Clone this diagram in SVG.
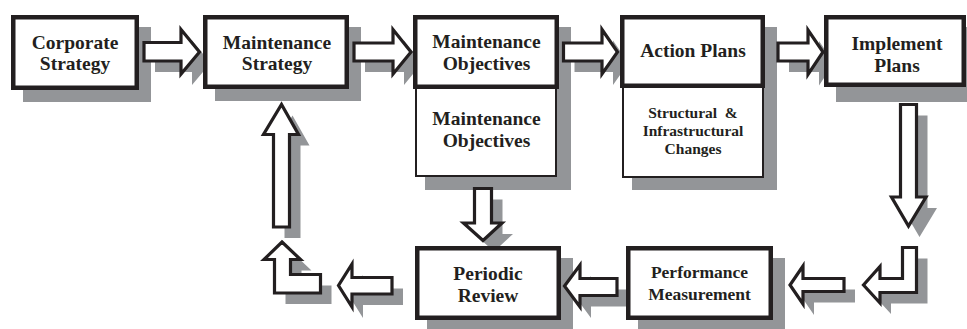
<svg xmlns="http://www.w3.org/2000/svg" width="967" height="329" viewBox="0 0 967 329">
  <style>
    .shadow { fill: #939598; stroke: none; }
    .box { fill: #ffffff; stroke: #231f20; stroke-width: 4.5; }
    .sub { fill: #ffffff; stroke: #231f20; stroke-width: 2; }
    .arrow { fill: #ffffff; stroke: #231f20; stroke-width: 3.2; stroke-linejoin: miter; }
    text { font-family: "Liberation Serif", "Times New Roman", serif; font-weight: bold; fill: #231f20; text-anchor: middle; }
    .t { font-size: 19.5px; }
    .m { font-size: 17.5px; }
    .s { font-size: 15.5px; white-space: pre; }
  </style>
  <defs>
    <!-- arrow outlines, reused for the drop shadows -->
    <polygon id="a1" points="144,42.5 181,42.5 181,29.5 199.5,52 181,74 181,61 144,61"/>
    <polygon id="a2" points="354,43 393,43 393,29.5 411,52 393,74 393,61 354,61"/>
    <polygon id="a3" points="563.5,43 602,43 602,29.5 617.5,52 602,74 602,61 563.5,61"/>
    <polygon id="a4" points="778,43 808,43 808,30 823,52 808,74.5 808,61 778,61"/>
    <polygon id="d1" points="900.5,104.5 916.5,104.5 916.5,197 926,197 908.5,226 891.5,197 900.5,197"/>
    <polygon id="d2" points="474.5,188.5 491.5,188.5 491.5,223 502,223 483,240.5 463.5,223 474.5,223"/>
    <polygon id="u1" points="273.5,227 289.5,227 289.5,134.5 298.5,134.5 281.5,104.5 263.5,134.5 273.5,134.5"/>
    <polygon id="l1" points="282,242 300.5,259.5 290.5,259.5 290.5,274.5 320.5,274.5 320.5,293 274.5,293 274.5,259.5 264,259.5"/>
    <polygon id="l2" points="902.5,247.5 916.5,247.5 916.5,292.5 880,292.5 880,303 863.5,285 880,266.5 880,278.5 902.5,278.5"/>
    <polygon id="b1" points="844,278.5 844,291.5 803,291.5 803,304 790,285 803,266 803,278.5"/>
    <polygon id="b2" points="617,278.5 617,295.5 580,295.5 580,307 564.5,286 580,265 580,278.5"/>
    <polygon id="b3" points="392,277.5 392,294 352,294 352,307 338.5,285.5 352,264 352,277.5"/>
  </defs>

  <!-- drop shadows -->
  <g id="shadows">
    <rect class="shadow" x="23" y="27" width="128" height="75"/>
    <rect class="shadow" x="215" y="27" width="146" height="74"/>
    <rect class="shadow" x="425" y="27" width="146" height="163"/>
    <rect class="shadow" x="632" y="27" width="145" height="163"/>
    <rect class="shadow" x="836" y="27" width="141" height="75"/>
    <rect class="shadow" x="427" y="258" width="146" height="74"/>
    <rect class="shadow" x="638" y="258" width="147" height="74"/>
    <g transform="translate(11,11)">
      <use href="#a1" class="shadow"/>
      <use href="#a2" class="shadow"/>
      <use href="#a3" class="shadow"/>
      <use href="#a4" class="shadow"/>
      <use href="#d1" class="shadow"/>
      <use href="#d2" class="shadow"/>
      <use href="#u1" class="shadow"/>
      <use href="#l1" class="shadow"/>
      <use href="#l2" class="shadow"/>
      <use href="#b1" class="shadow"/>
      <use href="#b2" class="shadow"/>
      <use href="#b3" class="shadow"/>
    </g>
  </g>

  <!-- block arrows -->
  <g id="connectors">
    <use href="#a1" class="arrow"/>
    <use href="#a2" class="arrow"/>
    <use href="#a3" class="arrow"/>
    <use href="#a4" class="arrow"/>
    <use href="#d1" class="arrow"/>
    <use href="#d2" class="arrow"/>
    <use href="#u1" class="arrow"/>
    <use href="#l1" class="arrow"/>
    <use href="#l2" class="arrow"/>
    <use href="#b1" class="arrow"/>
    <use href="#b2" class="arrow"/>
    <use href="#b3" class="arrow"/>
  </g>

  <g id="corporate-strategy">
    <rect class="box" x="13.25" y="17.25" width="123.5" height="70.5"/>
    <text class="t" x="75" y="49">Corporate</text>
    <text class="t" x="75" y="70">Strategy</text>
  </g>

  <g id="maintenance-strategy">
    <rect class="box" x="205.25" y="17.25" width="141.5" height="69.5"/>
    <text class="t" x="277" y="49">Maintenance</text>
    <text class="t" x="277" y="70">Strategy</text>
  </g>

  <g id="maintenance-objectives">
    <rect class="sub" x="416" y="88" width="140" height="88"/>
    <rect class="box" x="415.25" y="17.25" width="141.5" height="69.5"/>
    <text class="t" x="486.5" y="48">Maintenance</text>
    <text class="t" x="486.5" y="70">Objectives</text>
    <text class="t" x="486.5" y="125">Maintenance</text>
    <text class="t" x="486.5" y="147">Objectives</text>
  </g>

  <g id="action-plans">
    <rect class="sub" x="623" y="87" width="140" height="90"/>
    <rect class="box" x="622.25" y="17.25" width="140.5" height="68.5"/>
    <text class="t" x="693" y="57">Action Plans</text>
    <text class="s" x="693" y="118">Structural  &amp;</text>
    <text class="s" x="693" y="136">Infrastructural</text>
    <text class="s" x="693" y="154">Changes</text>
  </g>

  <g id="implement-plans">
    <rect class="box" x="826.25" y="17.25" width="137.5" height="67.5"/>
    <text class="t" x="897" y="50">Implement</text>
    <text class="t" x="897" y="72">Plans</text>
  </g>

  <g id="periodic-review">
    <rect class="box" x="417.25" y="248.25" width="141.5" height="69.5"/>
    <text class="t" x="488" y="280">Periodic</text>
    <text class="t" x="488" y="302">Review</text>
  </g>

  <g id="performance-measurement">
    <rect class="box" x="628.25" y="248.25" width="142.5" height="69.5"/>
    <text class="m" x="699.5" y="278">Performance</text>
    <text class="m" x="699.5" y="300">Measurement</text>
  </g>
</svg>
